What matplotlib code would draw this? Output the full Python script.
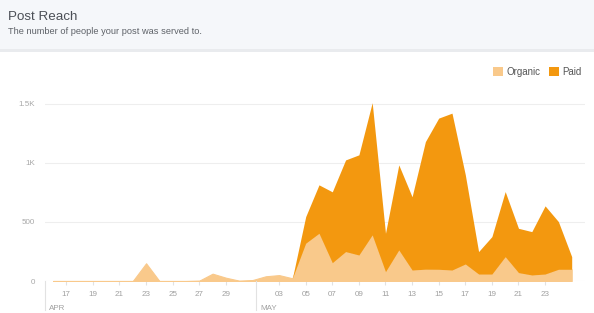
import matplotlib.pyplot as plt
from matplotlib.patches import Rectangle, Patch
from matplotlib.transforms import blended_transform_factory

# days from Apr 16 to May 25
days = ['16', '17', '18', '19', '20', '21', '22', '23', '24', '25', '26', '27', '28', '29', '30',
        '01', '02', '03', '04', '05', '06', '07', '08', '09', '10', '11', '12', '13', '14', '15',
        '16', '17', '18', '19', '20', '21', '22', '23', '24', '25']
organic = [0, 0, 0, 0, 0, 0, 0, 150, 0, 0, 0, 3, 62, 28, 3,
           8, 40, 50, 23, 320, 404, 155, 249, 220, 390, 79, 263, 93, 100, 99,
           93, 144, 59, 59, 206, 71, 51, 59, 99, 99]
paid = [0, 0, 0, 0, 0, 0, 0, 0, 0, 0, 0, 0, 0, 0, 0,
        0, 0, 0, 0, 225, 410, 600, 776, 848, 1120, 325, 720, 620, 1080, 1280,
        1328, 756, 190, 317, 551, 375, 367, 577, 404, 107]

tick_days = [1, 3, 5, 7, 9, 11, 13, 17, 19, 21, 23, 25, 27, 29, 31, 33, 35, 37]
months = ['APR', 'MAY']
month_starts = [-0.6, 15.3]

organic_c = '#f9c98b'
paid_c = '#f3980f'

fig = plt.figure(figsize=(5.94, 3.13), dpi=100)
plt.rcParams['font.family'] = ['Liberation Sans', 'DejaVu Sans']

# header band
fig.patches.append(Rectangle((0, 1 - 49 / 313), 1, 49 / 313, transform=fig.transFigure,
                             facecolor='#f5f7fa', edgecolor='none', zorder=0))
fig.patches.append(Rectangle((0, 1 - 52 / 313), 1, 3 / 313, transform=fig.transFigure,
                             facecolor='#e9ebee', edgecolor='none', zorder=0))
fig.text(8 / 594, 1 - 20 / 313, 'Post Reach', fontsize=9.6, color='#4b4f56')
fig.text(8 / 594, 1 - 34 / 313, 'The number of people your post was served to.',
         fontsize=6.7, color='#5f6369')

ax = fig.add_axes([45 / 594, 32 / 313, 540 / 594, 189 / 313])
x = list(range(len(days)))
polys = ax.stackplot(x, organic, paid, colors=[organic_c, paid_c],
                     edgecolor='face', linewidth=0.8)
polys[1].set_linewidth(0)

ax.set_xlim(-0.6, 40)
ax.set_ylim(0, 1600)
ax.set_yticks([0, 500, 1000, 1500])
ax.set_yticklabels(['0', '500', '1K', '1.5K'])
ax.grid(axis='y', color='#eeeeee', linewidth=0.8)
ax.set_axisbelow(True)
for s in ax.spines.values():
    s.set_visible(False)
ax.tick_params(axis='y', length=0, pad=7, labelsize=5.8, labelcolor='#a8a8a8')

ax.set_xticks(tick_days)
ax.set_xticklabels([days[i] for i in tick_days])
ax.tick_params(axis='x', length=3, color='#e2e2e2', pad=4, labelsize=5.8,
               labelcolor='#a0a0a0')

tr = blended_transform_factory(ax.transData, ax.transAxes)
for m, xs in zip(months, month_starts):
    ax.plot([xs, xs], [0, -0.155], transform=tr, color='#e2e2e2', linewidth=0.8,
            clip_on=False)
    ax.text(xs + 0.3, -0.125, m, transform=tr, fontsize=5.8, color='#a0a0a0',
            va='top', ha='left')

handles = [Patch(facecolor=organic_c, edgecolor='none'), Patch(facecolor=paid_c, edgecolor='none')]
fig.legend(handles, ['Organic', 'Paid'], loc='center right',
           bbox_to_anchor=(590 / 594, 1 - 72 / 313), ncol=2, frameon=False,
           fontsize=7, labelcolor='#555555', handlelength=1.0, handleheight=1.0,
           handletextpad=0.35, columnspacing=0.9)

fig.savefig('out.png', dpi=100)
